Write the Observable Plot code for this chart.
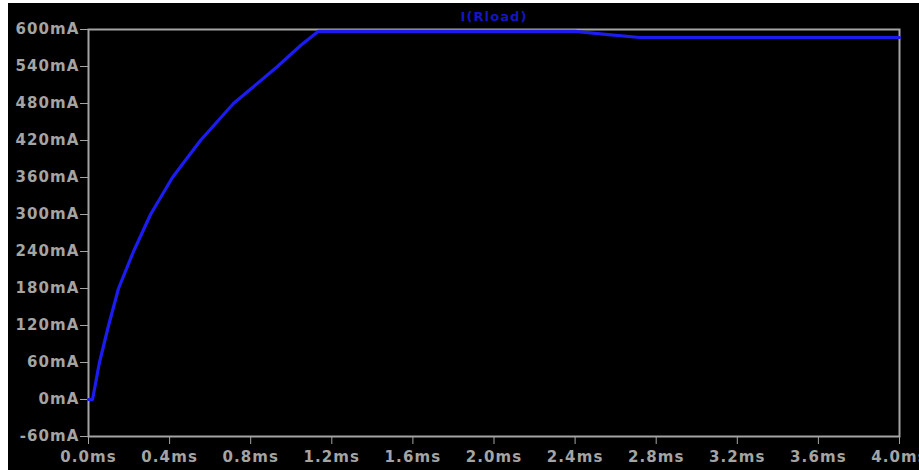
<!DOCTYPE html>
<html>
<head>
<meta charset="utf-8">
<script src="https://cdn.jsdelivr.net/npm/d3@7"></script>
<script src="https://cdn.jsdelivr.net/npm/@observablehq/plot@0.6"></script>
<style>
  html, body { margin: 0; padding: 0; background: #ffffff; }
  #wrap { padding-left: 8px; padding-top: 3px; width: 911px; height: 467px; }
  svg { display: block; }
</style>
</head>
<body>
<div id="wrap"></div>
<script>
// Data (time in ms, current in mA)
const timeMs = [0, 0.02, 0.054, 0.099, 0.148, 0.222, 0.306, 0.414, 0.552, 0.715, 0.932, 1.046, 1.134, 1.6, 2.0, 2.4, 2.55, 2.72, 3.2, 4.0];
const currentmA = [0, 0, 60, 120, 180, 240, 300, 360, 420, 480, 540, 574, 597, 597, 597, 597, 592, 587, 587, 587];
const yTicks = [-60, 0, 60, 120, 180, 240, 300, 360, 420, 480, 540, 600];
const xTicks = [0, 0.4, 0.8, 1.2, 1.6, 2.0, 2.4, 2.8, 3.2, 3.6, 4.0];
const traceName = "I(Rload)";

const data = timeMs.map((t, k) => ({t, i: currentmA[k]}));

const gray = "#a4a4a4";
const chart = Plot.plot({
  width: 911,
  height: 467,
  marginLeft: 80,
  marginRight: 20,
  marginTop: 26,
  marginBottom: 34,
  style: {background: "#000000", color: gray, fontFamily: "DejaVu Sans", fontSize: "15px", fontWeight: "bold", letterSpacing: "1.1px", overflow: "hidden"},
  x: {domain: [0, 4]},
  y: {domain: [-60, 600]},
  marks: [
    Plot.frame({stroke: gray, strokeWidth: 2}),
    Plot.axisY({ticks: yTicks, tickFormat: d => d + "mA", tickSize: 8, tickPadding: 1, stroke: gray, strokeOpacity: 1, label: null}),
    Plot.axisX({ticks: xTicks, tickFormat: d => d.toFixed(1) + "ms", tickSize: 8, tickPadding: 7, stroke: gray, strokeOpacity: 1, label: null}),
    Plot.line(data, {x: "t", y: "i", stroke: "#1c1cf0", strokeWidth: 3.2, curve: "linear"}),
    Plot.text([traceName], {frameAnchor: "top", dy: -18, text: d => d, fill: "#1414c8", fontSize: 13, fontWeight: "bold", letterSpacing: "0.5px"})
  ]
});
document.getElementById("wrap").appendChild(chart);
</script>
</body>
</html>
